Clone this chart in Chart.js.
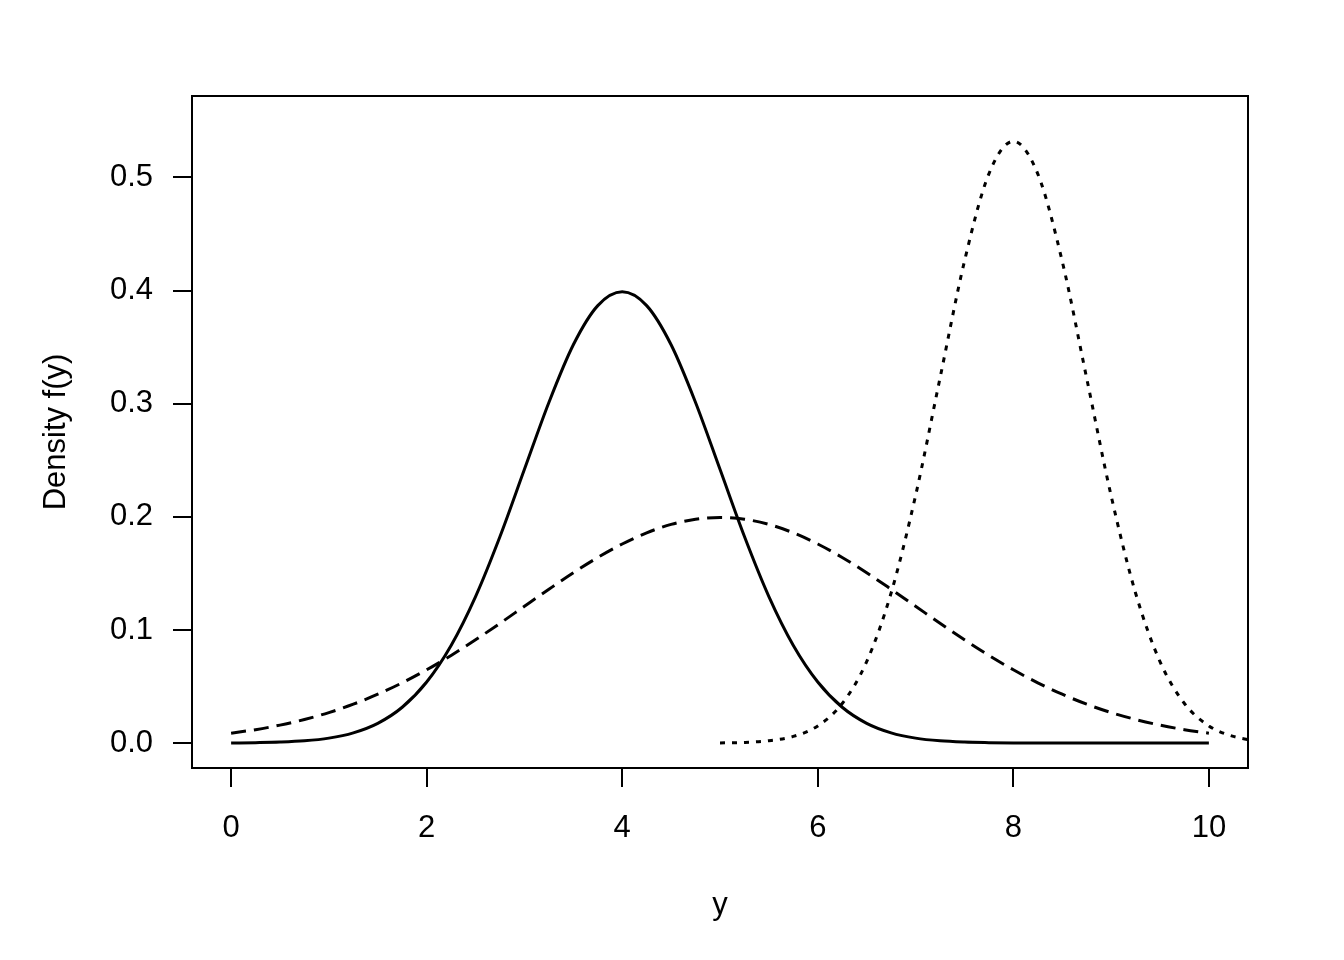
<!DOCTYPE html>
<html>
<head>
<meta charset="utf-8">
<script src="https://cdn.jsdelivr.net/npm/chart.js@4/dist/chart.umd.min.js"></script>
<style>
  html, body { margin: 0; padding: 0; background: #fff; }
  canvas { display: block; }
</style>
</head>
<body>
<canvas id="chart" width="1344" height="960"></canvas>
<script>
// values
const yGrid = [0, 0.25, 0.5, 0.75, 1, 1.25, 1.5, 1.75, 2, 2.25, 2.5, 2.75, 3, 3.25, 3.5, 3.75, 4,
  4.25, 4.5, 4.75, 5, 5.25, 5.5, 5.75, 6, 6.25, 6.5, 6.75, 7, 7.25, 7.5, 7.75, 8,
  8.25, 8.5, 8.75, 9, 9.25, 9.5, 9.75, 10];
const solidDensity = [0.0001, 0.0004, 0.0009, 0.0020, 0.0044, 0.0091, 0.0175, 0.0317, 0.0540, 0.0863, 0.1295, 0.1826, 0.2420, 0.3011, 0.3521, 0.3867, 0.3989,
  0.3867, 0.3521, 0.3011, 0.2420, 0.1826, 0.1295, 0.0863, 0.0540, 0.0317, 0.0175, 0.0091, 0.0044, 0.0020, 0.0009, 0.0004, 0.0001,
  0.0000, 0.0000, 0.0000, 0.0000, 0.0000, 0.0000, 0.0000, 0.0000];
const dashedDensity = [0.0088, 0.0119, 0.0159, 0.0209, 0.0270, 0.0344, 0.0432, 0.0533, 0.0648, 0.0775, 0.0913, 0.1059, 0.1210, 0.1360, 0.1506, 0.1641, 0.1760,
  0.1859, 0.1933, 0.1979, 0.1995, 0.1979, 0.1933, 0.1859, 0.1760, 0.1641, 0.1506, 0.1360, 0.1210, 0.1059, 0.0913, 0.0775, 0.0648,
  0.0533, 0.0432, 0.0344, 0.0270, 0.0209, 0.0159, 0.0119, 0.0088];
const dottedGrid = [5, 5.25, 5.5, 5.75, 6, 6.25, 6.5, 6.75, 7, 7.25, 7.5, 7.75, 8,
  8.25, 8.5, 8.75, 9, 9.25, 9.5, 9.75, 10, 10.25, 10.5, 10.75, 11];
const dottedDensity = [0.0002, 0.0006, 0.0021, 0.0059, 0.0152, 0.0350, 0.0720, 0.1327, 0.2187, 0.3226, 0.4259, 0.5032, 0.5319,
  0.5032, 0.4259, 0.3226, 0.2187, 0.1327, 0.0720, 0.0350, 0.0152, 0.0059, 0.0021, 0.0006, 0.0002];
const xTicks = [0, 2, 4, 6, 8, 10];
const yTicks = [0, 0.1, 0.2, 0.3, 0.4, 0.5];

const pts = (xs, ys) => xs.map((x, i) => ({ x: x, y: ys[i] }));

const FONT = { family: 'Liberation Sans, Arial, Helvetica, sans-serif', size: 31 };

// R-style box around the plot region
const boxPlugin = {
  id: 'box',
  afterDraw(chart) {
    const { ctx, chartArea: a } = chart;
    ctx.save();
    ctx.strokeStyle = '#000';
    ctx.lineWidth = 2;
    ctx.strokeRect(a.left, a.top, a.right - a.left, a.bottom - a.top);
    ctx.restore();
  }
};

const lineStyle = {
  borderColor: '#000',
  borderWidth: 3,
  pointRadius: 0,
  fill: false,
  cubicInterpolationMode: 'monotone'
};

new Chart(document.getElementById('chart').getContext('2d'), {
  type: 'line',
  data: {
    datasets: [
      { ...lineStyle, label: 'solid', data: pts(yGrid, solidDensity) },
      { ...lineStyle, label: 'dashed', data: pts(yGrid, dashedDensity), borderDash: [15, 8] },
      { ...lineStyle, label: 'dotted', data: pts(dottedGrid, dottedDensity), borderDash: [5, 7] }
    ]
  },
  options: {
    responsive: false,
    animation: false,
    layout: { padding: { top: 96, right: 96, left: 0, bottom: 0 } },
    plugins: { legend: { display: false }, tooltip: { enabled: false } },
    scales: {
      x: {
        type: 'linear',
        min: -0.4,
        max: 10.4,
        afterBuildTicks: s => { s.ticks = xTicks.map(v => ({ value: v })); },
        afterFit: s => { s.height = 192; },
        border: { display: false },
        grid: { drawOnChartArea: false, drawTicks: true, tickLength: 19, color: '#000', lineWidth: 2 },
        ticks: { color: '#000', font: FONT, padding: 23, maxRotation: 0 },
        title: { display: true, text: 'y', color: '#000', font: FONT, padding: { top: 0, bottom: 36 } }
      },
      y: {
        type: 'linear',
        min: -0.022,
        max: 0.572,
        afterBuildTicks: s => { s.ticks = yTicks.map(v => ({ value: v })); },
        afterFit: s => { s.width = 192; },
        border: { display: false },
        grid: { drawOnChartArea: false, drawTicks: true, tickLength: 19, color: '#000', lineWidth: 2 },
        ticks: { color: '#000', font: FONT, padding: 20, callback: v => v.toFixed(1) },
        title: { display: true, text: 'Density f(y)', color: '#000', font: FONT, padding: { top: 38, bottom: 0 } }
      }
    }
  },
  plugins: [boxPlugin]
});
</script>
</body>
</html>
